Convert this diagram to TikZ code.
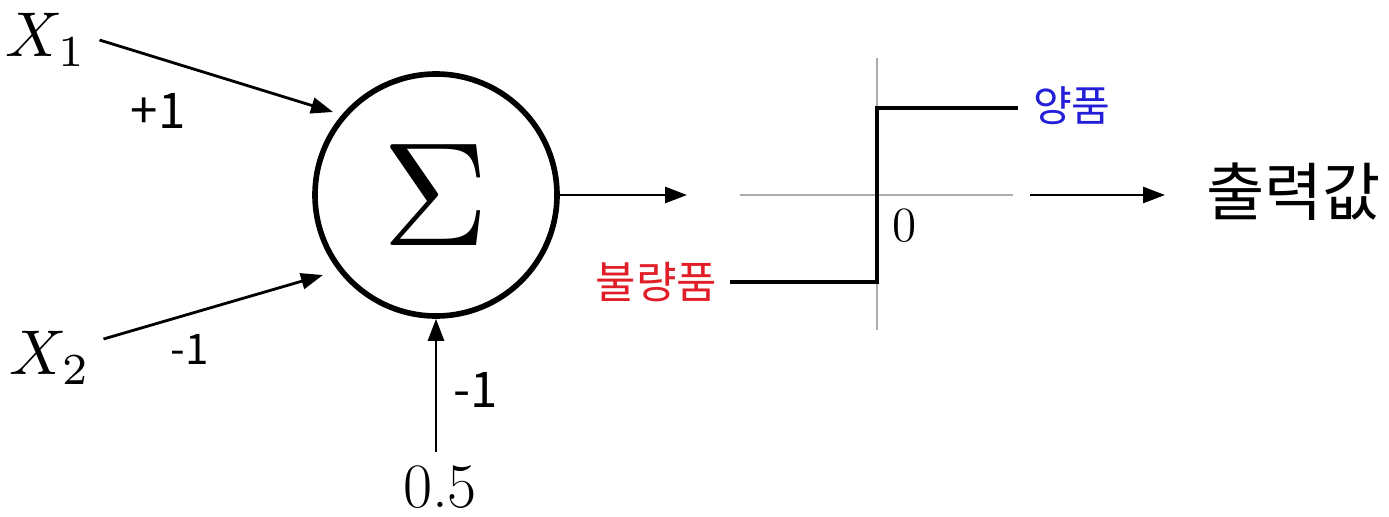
\documentclass[tikz,border=0pt]{standalone}
\usepackage{fontspec}
\newfontfamily\kor{Noto Sans CJK KR}
\usetikzlibrary{arrows.meta}
\definecolor{goodblue}{RGB}{35,30,215}
\definecolor{badred}{RGB}{225,30,40}

\begin{document}
\begin{tikzpicture}[line width=0.8pt,>={Triangle[length=2.2mm,width=1.6mm]},
  wlbl/.style={font=\kor\fontsize{14}{16}\selectfont},
  axis/.style={gray!65,line width=0.6pt}]
  \useasboundingbox (0,0) rectangle (13.89,5.16);
  \node[circle,draw,line width=1.6pt,minimum size=2.42cm,inner sep=0pt] (sum) at (4.36,3.21) {\scalebox{4.2}{$\Sigma$}};
  \node (x1) at (0.46,4.76) {\scalebox{1.8}{$X_1$}};
  \node (x2) at (0.50,1.58) {\scalebox{1.8}{$X_2$}};
  \node[font=\fontsize{18}{20}\selectfont] (bias) at (4.40,0.29) {0.5};
  \coordinate (x1in) at (3.33,4.04);
  \coordinate (x2in) at (3.23,2.41);
  \draw[->] (x1.east) -- (x1in);
  \draw[->] ([yshift=1.9mm]x2.east) -- (x2in);
  \draw[->] (bias.north -| sum.south) -- (sum.south);
  \node[wlbl] (w1) at (1.58,4.05) {+1};
  \node[wlbl,font=\kor\fontsize{12}{14}\selectfont] (w2) at (1.90,1.67) {-1};
  \node[wlbl] (w3) at (4.76,1.26) {-1};
  % step function
  \coordinate (sumout) at (6.87,3.21);
  \draw[->] (sum.east) -- (sumout);
  \coordinate (axL) at (7.40,3.21);
  \coordinate (axR) at (10.13,3.21);
  \coordinate (axT) at (8.77,4.58);
  \coordinate (axB) at (8.77,1.86);
  \draw[axis] (axL) -- (axR);
  \draw[axis] (axT) -- (axB);
  \coordinate (lo) at (7.30,2.34);
  \coordinate (hi) at (10.18,4.08);
  \draw[line width=1.2pt] (lo) -| (axT |- hi) -- (hi);
  \node[font=\fontsize{14}{16}\selectfont] (zero) at (9.05,2.90) {0};
  \node[font=\kor\fontsize{12}{14}\selectfont,text=goodblue,anchor=west] (good) at (10.20,4.10) {양품};
  \node[font=\kor\fontsize{12.5}{14}\selectfont,text=badred,anchor=east] (bad) at (7.30,2.34) {불량품};
  \node[font=\kor\fontsize{18}{20}\selectfont,anchor=west] (out) at (11.93,3.24) {출력값};
  \draw[->] ([xshift=1.7mm]axR) -- ([xshift=-2.8mm]axR -| out.west);
\end{tikzpicture}
\end{document}
